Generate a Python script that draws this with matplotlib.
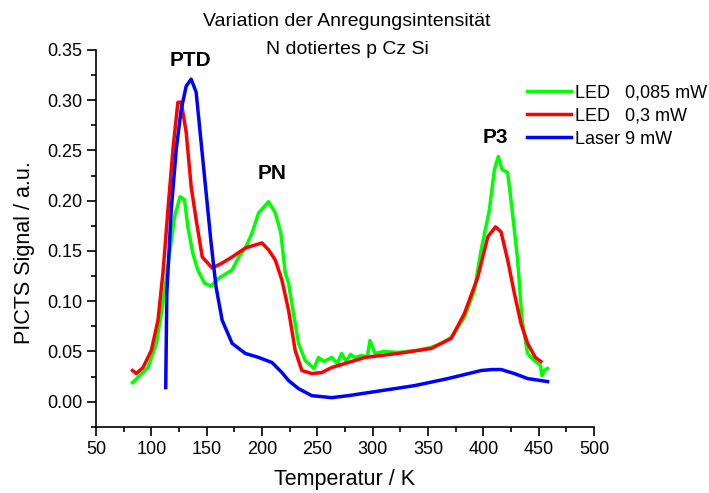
import matplotlib
matplotlib.use("Agg")
import matplotlib.pyplot as plt
from matplotlib.ticker import MultipleLocator, FormatStrFormatter

plt.rcParams['font.family'] = ['Liberation Sans', 'DejaVu Sans']

# LED 0,085 mW (green)
t_green = [83, 89.5, 97, 104.5, 110.5, 116.5, 121, 126, 130, 133, 137.4, 142, 148, 154,
           161, 173, 179, 185, 191, 197, 206, 212, 217, 221, 224, 229, 233, 239, 247,
           251, 256, 263, 268, 272, 276, 280, 284, 290, 295, 297.6, 302, 310, 323, 340,
           353, 362, 371, 383, 392, 398, 405.5, 410, 413.5, 417, 422, 426, 431, 435,
           440, 446, 451.6, 453, 455, 458]
s_green = [0.019, 0.026, 0.034, 0.058, 0.098, 0.148, 0.184, 0.204, 0.201, 0.174, 0.148,
           0.131, 0.118, 0.115, 0.123, 0.131, 0.144, 0.153, 0.168, 0.188, 0.199, 0.188,
           0.168, 0.128, 0.118, 0.084, 0.058, 0.041, 0.033, 0.044, 0.040, 0.044, 0.038,
           0.048, 0.040, 0.047, 0.044, 0.046, 0.044, 0.061, 0.048, 0.050, 0.049, 0.051,
           0.054, 0.058, 0.064, 0.084, 0.111, 0.151, 0.191, 0.231, 0.244, 0.231, 0.228,
           0.191, 0.141, 0.081, 0.048, 0.041, 0.036, 0.026, 0.031, 0.033]

# LED 0,3 mW (red)
t_red = [83, 86.5, 92.5, 100, 106, 110.5, 115, 119.5, 124, 127, 131.5, 136, 140.5, 146,
         155, 164, 173, 185, 194, 200, 206, 212, 218, 224, 230, 236, 245, 254, 263, 275,
         293, 323, 353, 371, 383, 395, 404, 411, 416, 422, 428, 434, 440, 447, 452]
s_red = [0.031, 0.028, 0.034, 0.051, 0.081, 0.128, 0.191, 0.251, 0.298, 0.298, 0.268,
         0.214, 0.181, 0.144, 0.133, 0.138, 0.144, 0.153, 0.156, 0.158, 0.151, 0.141,
         0.121, 0.091, 0.051, 0.031, 0.028, 0.029, 0.034, 0.038, 0.044, 0.048, 0.053,
         0.063, 0.088, 0.124, 0.164, 0.174, 0.169, 0.141, 0.108, 0.078, 0.058, 0.044,
         0.040]

# Laser 9 mW (blue)
t_blue = [113, 114, 118, 122.5, 127, 131.5, 136, 140.5, 145, 149.5, 154, 158.5, 164, 173,
          185, 197, 209, 218, 224, 233, 245, 263, 278, 308, 338, 368, 398, 408, 416, 428,
          440, 458]
s_blue = [0.014, 0.108, 0.191, 0.251, 0.291, 0.314, 0.321, 0.308, 0.258, 0.208, 0.158,
          0.114, 0.081, 0.058, 0.048, 0.044, 0.039, 0.029, 0.021, 0.013, 0.006, 0.004,
          0.006, 0.011, 0.016, 0.023, 0.031, 0.032, 0.032, 0.028, 0.023, 0.020]

peaks = ['PTD', 'PN', 'P3']
peak_t = [135, 209, 411]
peak_s = [0.340, 0.227, 0.263]

fig = plt.figure(figsize=(7.09, 4.93), dpi=100)
ax = fig.add_axes([96 / 709, 1 - 427.3 / 493, 498 / 709, 377.3 / 493])

ax.plot(t_green, s_green, color='#00ff00', lw=2.5, label='LED   0,085 mW')
ax.plot(t_red, s_red, color='#ff0000', lw=2.5, label='LED   0,3 mW')
ax.plot(t_blue, s_blue, color='#0000ff', lw=2.5, label='Laser 9 mW')

for name, t, s in zip(peaks, peak_t, peak_s):
    ax.text(t, s, name, ha='center', va='center', fontsize=15, fontweight='bold')

ax.set_xlim(50, 500)
ax.set_ylim(-0.0255, 0.35)
ax.xaxis.set_major_locator(MultipleLocator(50))
ax.xaxis.set_minor_locator(MultipleLocator(25))
ax.yaxis.set_major_locator(MultipleLocator(0.05))
ax.yaxis.set_minor_locator(MultipleLocator(0.025))
ax.yaxis.set_major_formatter(FormatStrFormatter('%.2f'))
ax.tick_params(which='both', direction='out', labelsize=13, width=1.2, pad=3.5)
ax.tick_params(which='major', length=6.5)
ax.tick_params(which='minor', length=3.5)
for side in ['left', 'bottom']:
    ax.spines[side].set_linewidth(1.2)
ax.spines['top'].set_visible(False)
ax.spines['right'].set_visible(False)

fig.text(345 / 709, 1 - 480 / 493, 'Temperatur / K', fontsize=15.5,
         ha='center', va='center')
fig.text(25 / 709, 1 - 253 / 493, 'PICTS Signal / a.u.', fontsize=15.5,
         ha='center', va='center', rotation=90)
fig.text(347 / 709, 1 - 21.7 / 493, 'Variation der Anregungsintensität', fontsize=14,
         ha='center', va='center')
fig.text(347 / 709, 1 - 50 / 493, 'N dotiertes p Cz Si', fontsize=14,
         ha='center', va='center')

ax.legend(loc='upper left', bbox_to_anchor=(527 / 709, 1 - 84 / 493),
          bbox_transform=fig.transFigure, frameon=False, fontsize=13,
          handlelength=2.45, handletextpad=0.22, labelspacing=0.35,
          borderpad=0, borderaxespad=0)

fig.savefig('out.png', dpi=100)
